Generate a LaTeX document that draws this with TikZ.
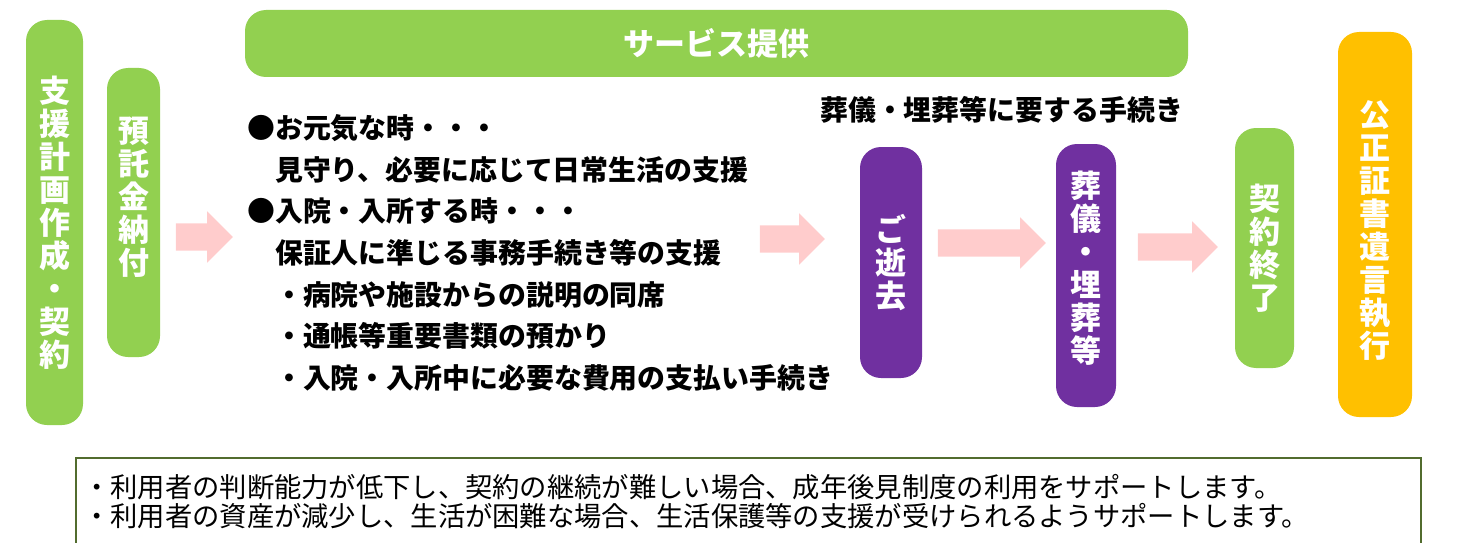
\documentclass[tikz,border=0pt]{standalone}
\usepackage{fontspec}
\setmainfont{Noto Sans CJK JP}
\usetikzlibrary{shapes.arrows}
\definecolor{stepgreen}{RGB}{146,208,80}
\definecolor{steppurple}{RGB}{112,48,160}
\definecolor{steporange}{RGB}{255,192,0}
\definecolor{arrowpink}{RGB}{255,204,204}
\definecolor{noteframe}{RGB}{82,108,46}

\begin{document}
\begin{tikzpicture}[x=1pt,y=-1pt,
  stepbox/.style={rounded corners=21pt, inner sep=0pt, text=white, align=center,
    font=\bfseries\fontsize{31}{33}\selectfont},
  vtext/.style={inner sep=0pt, text=white, align=center,
    font=\bfseries\fontsize{31}{33}\selectfont},
  pinkarrow/.style={single arrow, fill=arrowpink, inner xsep=0pt, inner ysep=13.5pt,
    single arrow head extend=12pt, single arrow head indent=0pt},
  item/.style={anchor=base west, inner sep=0pt, font=\bfseries\fontsize{27.9}{33}\selectfont},
  noteline/.style={anchor=base west, inner sep=0pt, font=\fontsize{27.3}{30}\selectfont}]
\clip (0,0) rectangle (1462,543);

% steps before and during the service
\node[stepbox, fill=stepgreen, minimum width=57pt, minimum height=405pt] (plan) at (54.5,222.5)
  {支\\援\\計\\画\\作\\成\\・\\契\\約};
\node[stepbox, fill=stepgreen, minimum width=53pt, minimum height=289pt] (deposit) at (133.5,212.5) {};
\node[vtext] (depositText) at (133.5,197) {預\\託\\金\\納\\付};
\node[pinkarrow, minimum height=57pt] (a1) at (197.5,237) {};

\node[stepbox, fill=stepgreen, minimum width=943pt, minimum height=67pt,
  font=\bfseries\fontsize{31}{36}\selectfont] (service) at (716.5,43.5) {サービス提供};

% what the service covers
\node[item] (l1) at (247,138.5) {●お元気な時・・・};
\node[item] (l2) at (247,180) {　見守り、必要に応じて日常生活の支援};
\node[item] (l3) at (247,221.5) {●入院・入所する時・・・};
\node[item] (l4) at (247,263) {　保証人に準じる事務手続き等の支援};
\node[item] (l5) at (247,305) {　・病院や施設からの説明の同席};
\node[item] (l6) at (247,346.5) {　・通帳等重要書類の預かり};
\node[item] (l7) at (247,388.5) {　・入院・入所中に必要な費用の支払い手続き};

\node[pinkarrow, minimum height=65pt] (a2) at (785.5,239) {};

% after death
\node[item] (funeralHead) at (820,120.5) {葬儀・埋葬等に要する手続き};
\node[stepbox, fill=steppurple, minimum width=62pt, minimum height=231pt] (death) at (891,262.5)
  {ご\\逝\\去};
\node[pinkarrow, minimum height=108pt] (a3) at (985,243) {};
\node[stepbox, fill=steppurple, minimum width=60pt, minimum height=263pt] (funeral) at (1086,275.5) {};
\node[vtext] (funeralText) at (1086,268) {葬\\儀\\・\\埋\\葬\\等};
\node[pinkarrow, minimum height=80pt] (a4) at (1171,247) {};
\node[stepbox, fill=stepgreen, minimum width=59pt, minimum height=240pt] (close) at (1264.5,248)
  {契\\約\\終\\了};
\node[stepbox, fill=steporange, minimum width=74pt, minimum height=385pt] (will) at (1375,224.5) {};
\node[vtext] (willText) at (1375,231) {公\\正\\証\\書\\遺\\言\\執\\行};

% note at the bottom
\node[draw=noteframe, line width=2pt, inner sep=0pt, anchor=north west,
  minimum width=1345pt, minimum height=110pt] (note) at (75,457) {};
\node[noteline] (n1) at (83,497.5) {・利用者の判断能力が低下し、契約の継続が難しい場合、成年後見制度の利用をサポートします。};
\node[noteline] (n2) at (83,526.5) {・利用者の資産が減少し、生活が困難な場合、生活保護等の支援が受けられるようサポートします。};
\end{tikzpicture}
\end{document}
